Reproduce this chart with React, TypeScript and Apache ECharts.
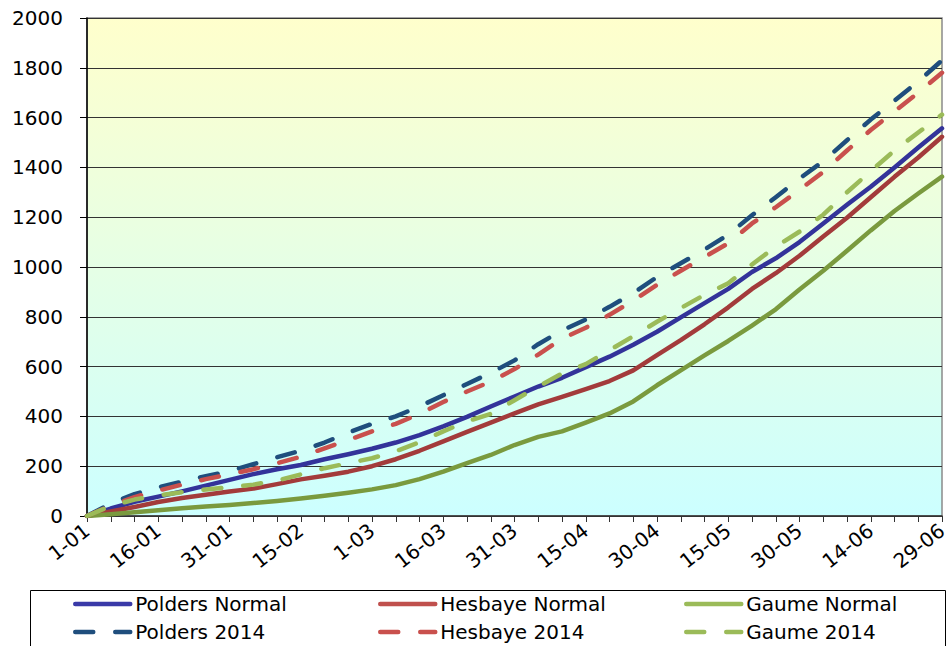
import React, { useEffect, useRef } from "react";
import * as echarts from "echarts";

const dateLabels = ["1-01", "16-01", "31-01", "15-02", "1-03", "16-03", "31-03", "15-04", "30-04", "15-05", "30-05", "14-06", "29-06"];

const days = [0, 5, 10, 15, 20, 25, 30, 35, 40, 45, 50, 55, 60, 65, 70, 75, 80, 85, 90, 95, 100, 105, 110, 115, 120, 125, 130, 135, 140, 145, 150, 155, 160, 165, 170, 175, 180];

const poldersNormal = [0, 30, 57, 78, 99, 122, 145, 168, 188, 205, 228, 248, 270, 295, 325, 360, 398, 440, 480, 520, 555, 598, 640, 688, 740, 798, 855, 912, 980, 1035, 1100, 1175, 1250, 1322, 1400, 1480, 1557];
const hesbayeNormal = [0, 18, 36, 56, 72, 85, 98, 110, 128, 147, 162, 178, 200, 228, 262, 300, 338, 375, 412, 448, 478, 510, 542, 585, 646, 706, 770, 838, 912, 975, 1045, 1122, 1198, 1280, 1362, 1440, 1523];
const gaumeNormal = [0, 7, 15, 23, 31, 38, 44, 52, 60, 70, 81, 93, 107, 124, 148, 178, 212, 245, 285, 318, 340, 375, 412, 460, 525, 585, 645, 703, 765, 830, 910, 985, 1065, 1147, 1225, 1295, 1363];
const polders2014 = [0, 50, 88, 115, 138, 160, 180, 208, 236, 262, 295, 335, 370, 400, 440, 485, 530, 575, 625, 690, 745, 789, 840, 895, 960, 1015, 1070, 1130, 1208, 1280, 1355, 1425, 1509, 1592, 1668, 1745, 1830];
const hesbaye2014 = [0, 42, 76, 102, 126, 148, 167, 188, 212, 238, 272, 305, 340, 370, 410, 458, 500, 540, 590, 648, 712, 756, 808, 865, 928, 985, 1040, 1095, 1175, 1240, 1310, 1382, 1468, 1550, 1625, 1700, 1780];
const gaume2014 = [0, 40, 66, 82, 96, 106, 116, 126, 142, 167, 192, 212, 232, 260, 296, 340, 380, 410, 465, 520, 572, 610, 666, 722, 780, 835, 888, 935, 1010, 1082, 1142, 1210, 1300, 1385, 1468, 1540, 1612];

const FONT = "DejaVu Sans";

export default function App() {
  const ref = useRef<HTMLDivElement>(null);
  useEffect(() => {
    if (!ref.current) return;
    const chart = echarts.init(ref.current, undefined, { renderer: "svg" });
    const solid = (name: string, data: number[], color: string) => ({
      name,
      type: "line",
      data: days.map((d, i) => [d, data[i]]),
      showSymbol: false,
      symbol: "none",
      smooth: false,
      lineStyle: { color, width: 4.5, cap: "round", join: "round" },
      itemStyle: { color },
    });
    const dashed = (name: string, data: number[], color: string) => ({
      name,
      type: "line",
      data: days.map((d, i) => [d, data[i]]),
      showSymbol: false,
      symbol: "none",
      smooth: false,
      lineStyle: { color, width: 4.5, type: [18, 22], cap: "round", join: "round" },
      itemStyle: { color },
    });
    const legendBase = {
      orient: "vertical",
      top: 594,
      padding: 0,
      itemWidth: 55,
      itemHeight: 14,
      itemGap: 8,
      itemStyle: { opacity: 0 },
      lineStyle: { width: 4.5, cap: "round" },
      textStyle: { fontFamily: FONT, fontSize: 20, color: "#000", lineHeight: 20 },
      selectedMode: false,
    };
    chart.setOption({
      animation: false,
      backgroundColor: "#fff",
      grid: {
        left: 87,
        right: 9,
        top: 18,
        bottom: 130,
        show: true,
        borderColor: "#8a8a8a",
        borderWidth: 1.5,
        backgroundColor: new echarts.graphic.LinearGradient(0, 0, 0, 1, [
          { offset: 0, color: "#FFFFCC" },
          { offset: 1, color: "#CCFFFF" },
        ]),
      },
      xAxis: {
        type: "value",
        min: 0,
        max: 180,
        interval: 15,
        axisLine: { show: true, onZero: false, lineStyle: { color: "#333", width: 1.5 } },
        axisTick: { show: true, length: 6, lineStyle: { color: "#333" } },
        minorTick: { show: true, splitNumber: 3, length: 6, lineStyle: { color: "#333" } },
        splitLine: { show: false },
        axisLabel: {
          rotate: 38,
          margin: 12,
          fontFamily: FONT,
          fontSize: 20,
          color: "#000",
          formatter: (v: number) => dateLabels[Math.round(v / 15)] ?? "",
        },
      },
      yAxis: {
        type: "value",
        min: 0,
        max: 2000,
        interval: 200,
        axisLine: { show: true, lineStyle: { color: "#000", width: 1.5 } },
        axisTick: { show: true, length: 7, lineStyle: { color: "#000" } },
        splitLine: { show: true, lineStyle: { color: "#333", width: 1 } },
        axisLabel: {
          margin: 24,
          fontFamily: FONT,
          fontSize: 20,
          color: "#000",
          formatter: (v: number) => String(v),
        },
      },
      legend: [
        {
          ...legendBase,
          left: 73,
          data: [
            { name: "Polders Normal", lineStyle: { color: "#3A3AA8" } },
            { name: "Polders 2014" },
          ],
        },
        {
          ...legendBase,
          left: 378,
          data: [
            { name: "Hesbaye Normal", lineStyle: { color: "#C0504D" } },
            { name: "Hesbaye 2014" },
          ],
        },
        {
          ...legendBase,
          left: 684,
          data: [
            { name: "Gaume Normal", lineStyle: { color: "#9BBB59" } },
            { name: "Gaume 2014" },
          ],
        },
      ],
      graphic: [
        {
          type: "rect",
          shape: { x: 30.5, y: 590.5, width: 915, height: 80 },
          style: { fill: "none", stroke: "#000", lineWidth: 1 },
          silent: true,
        },
      ],
      series: [
        solid("Polders Normal", poldersNormal, "#33339A"),
        solid("Hesbaye Normal", hesbayeNormal, "#A33B3B"),
        solid("Gaume Normal", gaumeNormal, "#7A9A3E"),
        dashed("Polders 2014", polders2014, "#1F4E7D"),
        dashed("Hesbaye 2014", hesbaye2014, "#C9504D"),
        dashed("Gaume 2014", gaume2014, "#9BBB59"),
      ],
    });
    return () => chart.dispose();
  }, []);
  return <div ref={ref} style={{ position: "fixed", left: 0, top: 0, width: 951, height: 646 }} />;
}
